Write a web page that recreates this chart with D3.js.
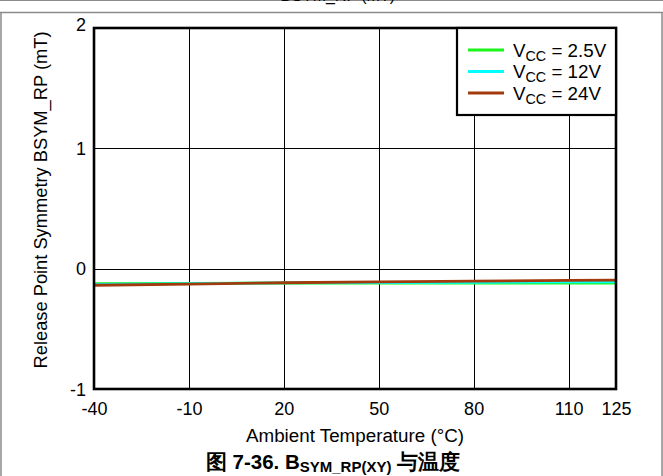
<!DOCTYPE html>
<html><head><meta charset="utf-8">
<script src="https://cdn.jsdelivr.net/npm/d3@7"></script>
<style>
body{margin:0;background:#fff;}
text{font-family:"Liberation Sans",Arial,sans-serif;fill:#000;}
</style></head>
<body><svg id="c" width="663" height="476"></svg>
<script>
const temps = [-40, -10, 20, 50, 80, 110, 125];
const xTicks = [-40, -10, 20, 50, 80, 110, 125];
const yTicks = [-1, 0, 1, 2];
const seriesNames = ["2.5V", "12V", "24V"];
const seriesColors = ["#1cf51c", "#00ffff", "#a33a0c"];
const vcc25 = [-0.125, -0.122, -0.12, -0.12, -0.12, -0.12, -0.12];
const vcc12 = [-0.13, -0.125, -0.118, -0.115, -0.113, -0.11, -0.11];
const vcc24 = [-0.138, -0.128, -0.117, -0.11, -0.104, -0.098, -0.095];
const seriesValues = [vcc25, vcc12, vcc24];

const FF = "'Liberation Sans', Arial, sans-serif";
const svg = d3.select("#c");
const L = 94, R = 616, T = 28, B = 389;
const x = d3.scaleLinear().domain([-40, 125]).range([L, R]);
const y = d3.scaleLinear().domain([-1, 2]).range([B, T]);

// outer frame
const frame = "#8a8a8a";
svg.append("line").attr("x1",0).attr("x2",663).attr("y1",0.5).attr("y2",0.5).attr("stroke",frame).attr("stroke-width",1);
svg.append("line").attr("x1",0).attr("x2",663).attr("y1",12.5).attr("y2",12.5).attr("stroke",frame).attr("stroke-width",1.5);
svg.append("line").attr("x1",1).attr("x2",1).attr("y1",12).attr("y2",476).attr("stroke",frame).attr("stroke-width",1.5);
svg.append("line").attr("x1",662).attr("x2",662).attr("y1",12).attr("y2",476).attr("stroke",frame).attr("stroke-width",1.5);
// clipped remnant of the previous caption (cut off at the top, as in the reference)
svg.append("text").attr("x",395).attr("y",1).attr("text-anchor","end").attr("font-size",16).text("BSYM_RP (mT)");

// grid
const g = svg.append("g");
g.selectAll(".vg").data(xTicks.slice(1,-1)).join("line")
  .attr("x1",d=>Math.round(x(d))+0.5).attr("x2",d=>Math.round(x(d))+0.5)
  .attr("y1",T).attr("y2",B).attr("stroke","#000").attr("stroke-width",1);
g.selectAll(".hg").data(yTicks.slice(1,-1)).join("line")
  .attr("y1",d=>Math.round(y(d))+0.5).attr("y2",d=>Math.round(y(d))+0.5)
  .attr("x1",L).attr("x2",R).attr("stroke","#000").attr("stroke-width",1);

// axes (labels only)
const xAxis = d3.axisBottom(x).tickValues(xTicks).tickSize(0).tickPadding(0).tickFormat(d=>String(d));
const xa = svg.append("g").attr("transform",`translate(0,${B})`).call(xAxis);
xa.attr("font-family",FF).attr("font-size",18);
xa.select(".domain").remove();
xa.selectAll("text").attr("dy",null).attr("y",26).attr("fill","#000");
const yAxis = d3.axisLeft(y).tickValues(yTicks).tickSize(0).tickPadding(0).tickFormat(d=>String(d));
const ya = svg.append("g").attr("transform",`translate(${L-8},0)`).call(yAxis);
ya.attr("font-family",FF).attr("font-size",18);
ya.select(".domain").remove();
ya.selectAll("text").attr("dy","0.35em").attr("x",0).attr("fill","#000");
ya.selectAll(".tick").filter(d=>d===2).select("text").attr("dy","0.15em");

// lines
svg.append("clipPath").attr("id","pc").append("rect").attr("x",L).attr("y",T).attr("width",R-L).attr("height",B-T);
const line = d3.line().x((d,i)=>x(temps[i])).y(d=>y(d));
svg.append("g").attr("clip-path","url(#pc)").selectAll("path").data(seriesValues).join("path")
  .attr("d",line).attr("fill","none").attr("stroke",(d,i)=>seriesColors[i]).attr("stroke-width",2.8);

// plot border
svg.append("rect").attr("x",L).attr("y",T).attr("width",R-L).attr("height",B-T)
  .attr("fill","none").attr("stroke","#000").attr("stroke-width",2.6);

// legend
const lg = svg.append("g");
lg.append("rect").attr("x",457).attr("y",T).attr("width",R-457).attr("height",87)
  .attr("fill","#fff").attr("stroke","#000").attr("stroke-width",2.2);
seriesNames.forEach((n,i)=>{
  const ly = 50 + i*21.5;
  lg.append("line").attr("x1",468).attr("x2",504).attr("y1",ly).attr("y2",ly)
    .attr("stroke",seriesColors[i]).attr("stroke-width",2.8);
  const t = lg.append("text").attr("x",513).attr("y",ly+6.5).attr("font-size",18.8);
  t.append("tspan").text("V");
  t.append("tspan").attr("font-size",14.3).attr("dy",4).text("CC");
  t.append("tspan").attr("dy",-4).text(" = " + n);
});

// axis titles
svg.append("text").attr("x",(L+R)/2).attr("y",442).attr("text-anchor","middle").attr("font-size",18.8)
  .text("Ambient Temperature (°C)");
svg.append("text").attr("transform","translate(47,200) rotate(-90)").attr("text-anchor","middle").attr("font-size",18.3)
  .text("Release Point Symmetry BSYM_RP (mT)");

// caption
const cap = svg.append("text").attr("x",333).attr("y",468.5).attr("text-anchor","middle")
  .attr("font-size",20.5).attr("font-weight","bold")
  .attr("font-family","'Liberation Sans','Noto Sans CJK SC',sans-serif");
cap.append("tspan").text("图 7-36. B");
cap.append("tspan").attr("font-size",15).attr("dy",3.5).text("SYM_RP(XY)");
cap.append("tspan").attr("dy",-3.5).text(" 与温度");
</script></body></html>
